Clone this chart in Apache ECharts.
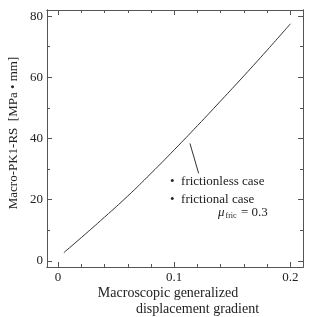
<!DOCTYPE html>
<html>
<head>
<meta charset="utf-8">
<script src="https://cdn.jsdelivr.net/npm/echarts@6/dist/echarts.min.js"></script>
<style>
html,body{margin:0;padding:0;background:#fff;}
#chart{width:310px;height:317px;}
</style>
</head>
<body>
<div id="chart"></div>
<script>
// Data
var xValues = [0.005, 0.02, 0.04, 0.06, 0.08, 0.10, 0.12, 0.14, 0.16, 0.18, 0.20];
var yValues = [2.7, 7.6, 14.3, 21.2, 28.6, 36.3, 44.2, 52.3, 60.5, 68.9, 77.5];
var xMajorTicks = [0, 0.1, 0.2];
var xMinorTicks = [0, 0.02, 0.04, 0.06, 0.08, 0.1, 0.12, 0.14, 0.16, 0.18, 0.2];
var yMajorTicks = [0, 20, 40, 60, 80];
var yMinorTicks = [0, 10, 20, 30, 40, 50, 60, 70, 80];
var xLabels = ['0', '0.1', '0.2'];
var pointerLine = [[0.1135, 38.4], [0.121, 28.6]];

var FONT = '"Liberation Serif", "Times New Roman", serif';
var AXC = '#555';
var TXT = '#222';

var chart = echarts.init(document.getElementById('chart'), null, {renderer: 'canvas'});

function xAxisDef(pos, ticks, len, labels) {
  return {
    type: 'value', position: pos, min: -0.0095, max: 0.2108,
    axisLine: {show: true, onZero: false, lineStyle: {color: AXC, width: 1}},
    axisTick: {show: true, inside: true, length: len, customValues: ticks, lineStyle: {color: AXC}},
    axisLabel: labels ? {show: true, customValues: xMajorTicks, margin: 4, color: TXT, fontFamily: FONT, fontSize: 13,
      formatter: function (v) { return xLabels[xMajorTicks.indexOf(Math.round(v * 10) / 10)] || String(v); }} : {show: false},
    splitLine: {show: false}
  };
}
function yAxisDef(pos, ticks, len, labels) {
  return {
    type: 'value', position: pos, min: -2, max: 82,
    axisLine: {show: true, onZero: false, lineStyle: {color: AXC, width: 1}},
    axisTick: {show: true, inside: true, length: len, customValues: ticks, lineStyle: {color: AXC}},
    axisLabel: labels ? {show: true, customValues: yMajorTicks, margin: 4, color: TXT, fontFamily: FONT, fontSize: 13} : {show: false},
    splitLine: {show: false}
  };
}

var data = xValues.map(function (x, i) { return [x, yValues[i]]; });

chart.setOption({
  animation: false,
  backgroundColor: '#fff',
  grid: {left: 47, right: 7, top: 10, bottom: 50, containLabel: false},
  xAxis: [
    xAxisDef('bottom', xMajorTicks, 5, true),
    xAxisDef('bottom', xMinorTicks, 3, false),
    xAxisDef('top', xMajorTicks, 5, false),
    xAxisDef('top', xMinorTicks, 3, false)
  ],
  yAxis: [
    yAxisDef('left', yMajorTicks, 5, true),
    yAxisDef('left', yMinorTicks, 3, false),
    yAxisDef('right', yMajorTicks, 5, false),
    yAxisDef('right', yMinorTicks, 3, false)
  ],
  series: [{
    type: 'line', xAxisIndex: 0, yAxisIndex: 0, data: data, smooth: true, showSymbol: false,
    lineStyle: {color: '#333', width: 1},
    markLine: {
      silent: true, symbol: ['none', 'none'], label: {show: false},
      lineStyle: {color: '#333', width: 1, type: 'solid'},
      data: [[{coord: pointerLine[0]}, {coord: pointerLine[1]}]]
    }
  }],
  graphic: [
    {type: 'text', x: 13.5, y: 133, rotation: Math.PI / 2,
      style: {text: 'Macro-PK1-RS  [MPa • mm]', fontFamily: FONT, fontSize: 13, fill: TXT, textAlign: 'center', textVerticalAlign: 'middle'}},
    {type: 'text', x: 168, y: 293,
      style: {text: 'Macroscopic generalized', fontFamily: FONT, fontSize: 14, fill: TXT, textAlign: 'center', textVerticalAlign: 'middle'}},
    {type: 'text', x: 197.5, y: 309,
      style: {text: 'displacement gradient', fontFamily: FONT, fontSize: 14, fill: TXT, textAlign: 'center', textVerticalAlign: 'middle'}},
    {type: 'text', x: 170, y: 182,
      style: {text: '•  frictionless case', fontFamily: FONT, fontSize: 13, fill: TXT, textAlign: 'left', textVerticalAlign: 'middle'}},
    {type: 'text', x: 170, y: 200,
      style: {text: '•  frictional case', fontFamily: FONT, fontSize: 13, fill: TXT, textAlign: 'left', textVerticalAlign: 'middle'}},
    {type: 'text', x: 218, y: 213,
      style: {
        text: '{mu|μ}{sub|fric}{n| = 0.3}',
        textAlign: 'left', textVerticalAlign: 'middle',
        rich: {
          mu: {fontFamily: FONT, fontSize: 13, fontStyle: 'italic', fill: TXT, verticalAlign: 'bottom'},
          sub: {fontFamily: FONT, fontSize: 8, fill: TXT, verticalAlign: 'bottom', padding: [0, 1, 0, 1]},
          n: {fontFamily: FONT, fontSize: 13, fill: TXT, verticalAlign: 'bottom'}
        }
      }}
  ]
});
</script>
</body>
</html>
